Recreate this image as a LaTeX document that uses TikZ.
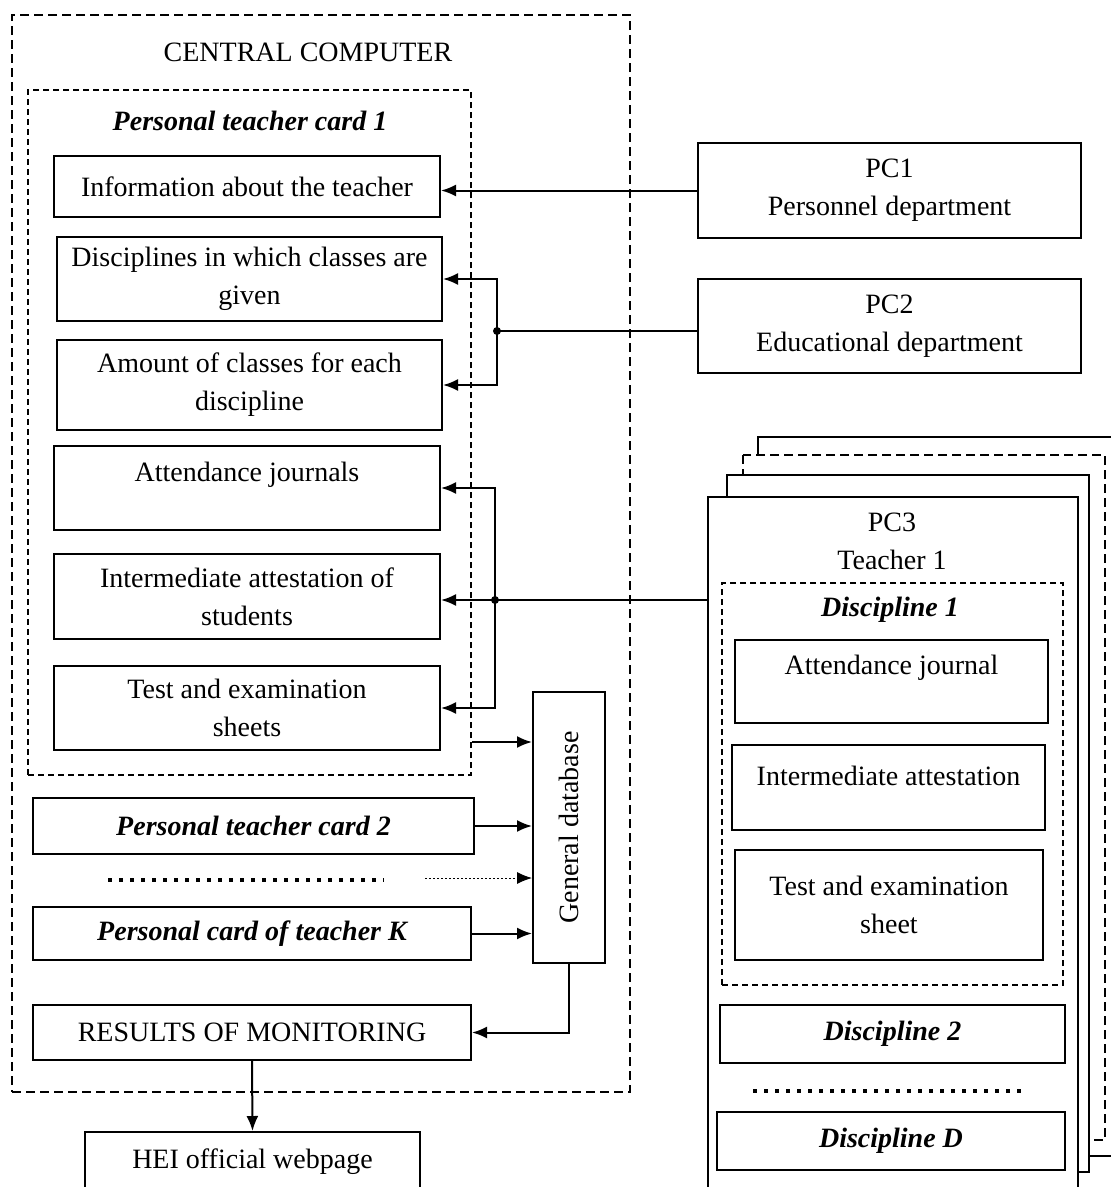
\documentclass[tikz,border=0pt]{standalone}
\usepackage{fontspec}
\setmainfont{Liberation Serif}
\usetikzlibrary{arrows.meta}

\begin{document}
\begin{tikzpicture}[
	x=1pt, y=-1pt, line width=2pt,
	every node/.style={font=\fontsize{28}{38}\selectfont, align=center, inner sep=0pt},
	box/.style 2 args={rectangle, draw=black, fill=white, minimum width=#1, minimum height=#2},
	frame/.style={rectangle, draw=black, dash pattern=on 9pt off 5pt},
	subframe/.style={rectangle, draw=black, dash pattern=on 6pt off 4pt},
	heading/.style={font=\fontsize{28}{38}\selectfont\bfseries\itshape},
	link/.style={-{Latex[length=15pt,width=12pt]}},
	junction/.style={circle, fill=black, minimum size=8pt},
	dots/.style={line width=3.5pt, dash pattern=on 3.5pt off 7.5pt},
]
\useasboundingbox (0,0) rectangle (1111,1187);
\clip (0,0) rectangle (1111,1187);

% central computer
\node [frame, minimum width=618pt, minimum height=1077pt] (central) at (321,553.5) {};
\node (centraltitle) at (308,52) {CENTRAL COMPUTER};
\node [subframe, minimum width=443pt, minimum height=685pt] (card1) at (249.5,432.5) {};
\node [heading] (card1title) at (250,121) {Personal teacher card 1};
\node [box={386pt}{61pt}] (info) at (247,186.5) {Information about the teacher};
\node [box={385pt}{84pt}] (disc) at (249.5,279) {Disciplines in which classes are\\given};
\node [box={385pt}{90pt}] (amount) at (249.5,385) {Amount of classes for each\\discipline};
\node [box={386pt}{84pt}] (attend) at (247,488) {Attendance journals\\[-16pt]\strut};
\node [box={386pt}{85pt}] (inter) at (247,596.5) {Intermediate attestation of\\students};
\node [box={386pt}{84pt}] (tests) at (247,708) {Test and examination\\sheets};
\node [box={72pt}{271pt}] (gendb) at (569,827.5) {\rotatebox{90}{General database}};
\node [box={441pt}{56pt}, heading] (card2) at (253.5,826) {Personal teacher card 2};
\draw [dots] (108,880) -- (384,880);
\node [box={438pt}{53pt}, heading] (cardK) at (252,933.5) {Personal card of teacher K};
\node [box={438pt}{55pt}] (results) at (252,1032.5) {RESULTS OF MONITORING};
\node [box={335pt}{60pt}, anchor=north] (web) at (252.5,1131) {HEI official webpage};

% departments
\node [box={383pt}{95pt}] (pc1) at (889.5,190.5) {PC1\\Personnel department};
\node [box={383pt}{94pt}] (pc2) at (889.5,326) {PC2\\Educational department};

% teacher computers, back to front
\draw [fill=white] (758,437) rectangle (1130,1156);
\draw [fill=white, dash pattern=on 9pt off 5pt] (743,455) rectangle (1105,1140);
\draw [fill=white] (727,475) rectangle (1089,1172);
\node [box={370pt}{720pt}, anchor=north west] (pc3) at (707,496) {};
\node (pc3title) at (892,541) {PC3\\Teacher 1};
\node [subframe, minimum width=341pt, minimum height=402pt] (disc1) at (892.5,784) {};
\node [heading] (disc1title) at (890,610) {Discipline 1};
\node [box={313pt}{83pt}] (journal) at (891.5,681.5) {Attendance journal\\[-16pt]\strut};
\node [box={313pt}{85pt}] (attest) at (888.5,787.5) {Intermediate attestation\\[-26pt]\strut};
\node [box={308pt}{110pt}] (sheet) at (889,905) {Test and examination\\sheet};
\node [box={345pt}{58pt}, heading] (disc2) at (892.5,1034) {Discipline 2};
\draw [dots] (753,1091) -- (1028,1091);
\node [box={348pt}{58pt}, heading] (discD) at (891,1141) {Discipline D};

% connectors
\draw [link] (pc1.west) -- (pc1.west -| info.east);
\coordinate (fork2) at (497,331);
\draw (fork2 -| pc2.west) -- (fork2);
\draw [link] (fork2) |- (disc.east);
\draw [link] (fork2) |- (amount.east);
\node [junction] (dot2) at (fork2) {};
\coordinate (fork3) at (495,600);
\draw (fork3 -| pc3.west) -- (fork3);
\draw [link] (fork3) |- (attend.east);
\draw [link] (fork3) -- (fork3 -| inter.east);
\draw [link] (fork3) |- (tests.east);
\node [junction] (dot3) at (fork3) {};
\draw [link] (card1.east |- 0,742) -- (gendb.west |- 0,742);
\draw [link] (card2.east) -- (card2.east -| gendb.west);
\coordinate (more) at (425,878);
\draw [link, line width=1pt, dash pattern=on 2pt off 2pt] (more) -- (more -| gendb.west);
\draw [link] (cardK.east) -- (cardK.east -| gendb.west);
\draw [link] (gendb.south) |- (results.east);
\draw [link] (results.south) -- (web.north);
\end{tikzpicture}
\end{document}
